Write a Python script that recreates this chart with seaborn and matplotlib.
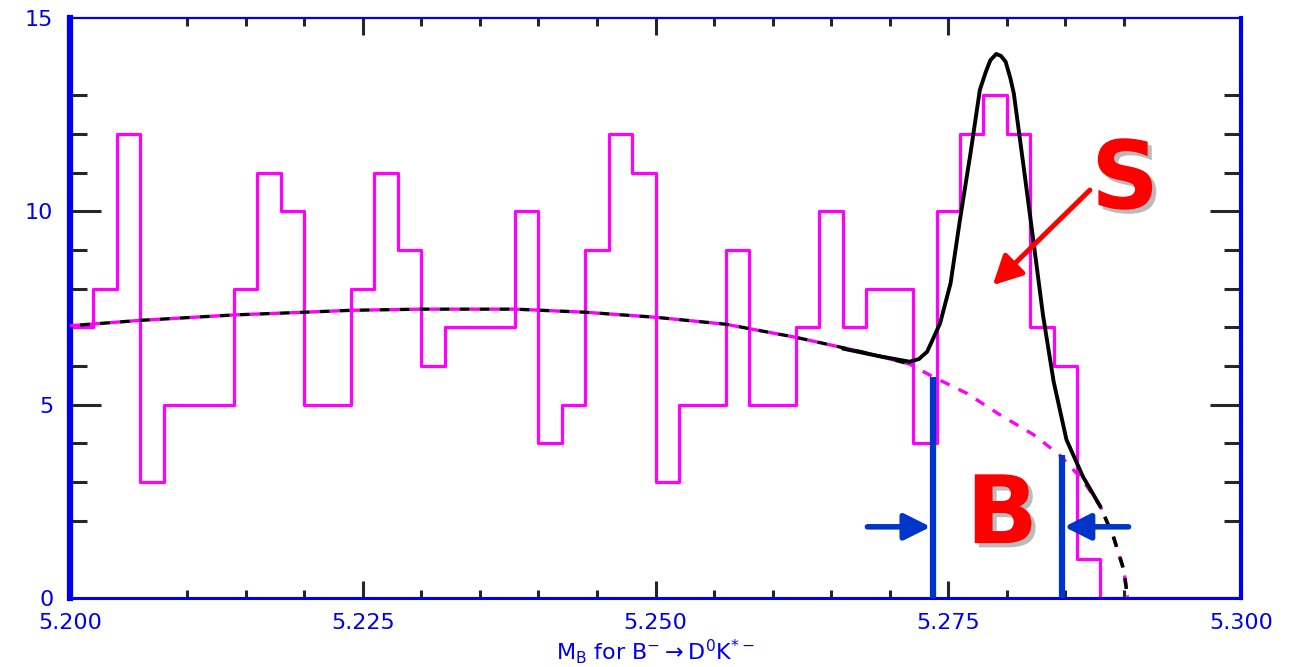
import matplotlib
matplotlib.use("Agg")
import matplotlib.pyplot as plt
import matplotlib.patheffects as pe
import numpy as np
import pandas as pd
import seaborn as sns

# histogram: 50 bins of 0.002 GeV from 5.200 to 5.300
bin_edges = [round(5.200 + 0.002 * i, 3) for i in range(51)]
counts = [7, 8, 12, 3, 5, 5, 5, 8, 11, 10,
          5, 5, 8, 11, 9, 6, 7, 7, 7, 10,
          4, 5, 9, 12, 11, 3, 5, 5, 9, 5,
          5, 7, 10, 7, 8, 8, 4, 10, 12, 13,
          12, 7, 6, 1, 0, 0, 0, 0, 0, 0]

# background (ARGUS-like) curve
bkg_x = [5.200, 5.206, 5.214, 5.220, 5.224, 5.230, 5.238, 5.244, 5.250, 5.256,
         5.262, 5.268, 5.2717, 5.2737, 5.2766, 5.2794, 5.2823, 5.2845, 5.2865,
         5.2880, 5.2891, 5.2900, 5.2903]
bkg_y = [7.04, 7.18, 7.32, 7.39, 7.44, 7.47, 7.47, 7.39, 7.26, 7.08,
         6.74, 6.34, 6.05, 5.72, 5.29, 4.74, 4.22, 3.70, 3.05,
         2.36, 1.59, 0.72, 0.03]

# total fit (signal peak + background)
tot_x = [5.2660, 5.2690, 5.2717, 5.2725, 5.2732, 5.2743, 5.2752, 5.2760, 5.2769,
         5.2777, 5.2782, 5.2786, 5.2791, 5.2795, 5.2799, 5.2803, 5.2806, 5.2814,
         5.2823, 5.2831, 5.2840, 5.2851, 5.2865, 5.2880]
tot_y = [6.45, 6.26, 6.11, 6.18, 6.37, 7.10, 8.14, 9.78, 11.50,
         13.14, 13.60, 13.91, 14.07, 14.02, 13.87, 13.45, 13.05, 11.24,
         9.17, 7.30, 5.60, 4.09, 3.14, 2.36]

# signal window cuts
cut_lo, cut_hi = 5.2737, 5.2847
cut_lo_top, cut_hi_top = 5.72, 3.70

blue = '#0000f0'
dark_blue = '#0035cc'
magenta = '#ff00ff'

sns.set_style("white")
plt.rcParams['font.family'] = ['DejaVu Sans']

fig = plt.figure(figsize=(12.97, 6.67), dpi=100)
ax = fig.add_axes([0.054, 0.1035, 0.9028, 0.8695])

hist_df = pd.DataFrame({'mass': [e + 0.001 for e in bin_edges[:-1]], 'n': counts})
sns.histplot(data=hist_df, x='mass', weights='n', bins=bin_edges, element='step',
             fill=False, color=magenta, linewidth=2.3, ax=ax)

# background: magenta dashes everywhere, black dashes where it is also the total
ax.plot(bkg_x, bkg_y, color=magenta, lw=2.4, linestyle=(0, (3, 3)), zorder=3)
left = [i for i, v in enumerate(bkg_x) if v <= 5.2717]
right = [i for i, v in enumerate(bkg_x) if v >= 5.2880]
ax.plot([bkg_x[i] for i in left], [bkg_y[i] for i in left],
        color='black', lw=2.4, linestyle=(3, (3, 3)), zorder=3)
ax.plot([bkg_x[i] for i in right], [bkg_y[i] for i in right],
        color='black', lw=2.6, linestyle=(3, (3, 3)), zorder=3)
sns.lineplot(x=tot_x, y=tot_y, color='black', lw=2.8, ax=ax, zorder=4)

# signal window lines and arrows
ax.plot([cut_lo, cut_lo], [0, cut_lo_top], color=dark_blue, lw=4.5, zorder=5,
        solid_capstyle='butt')
ax.plot([cut_hi, cut_hi], [0, cut_hi_top], color=dark_blue, lw=4.5, zorder=5,
        solid_capstyle='butt')
arr_kw = dict(arrowstyle='-|>,head_length=1.0,head_width=0.5', color=dark_blue,
              lw=4, mutation_scale=16, shrinkA=0, shrinkB=0)
ax.annotate('', xy=(cut_lo - 0.0002, 1.84), xytext=(5.2681, 1.84), arrowprops=arr_kw,
            zorder=5)
ax.annotate('', xy=(cut_hi + 0.0002, 1.84), xytext=(5.2904, 1.84), arrowprops=arr_kw,
            zorder=5)

# S / B labels
shadow = [pe.withSimplePatchShadow(offset=(3, -3), shadow_rgbFace='#bbbbbb', alpha=1)]
ax.text(5.2901, 10.75, 'S', color='#ff0000', fontsize=68, fontweight='bold',
        ha='center', va='center', path_effects=shadow, zorder=6)
ax.text(5.2796, 2.09, 'B', color='#ff0000', fontsize=68, fontweight='bold',
        ha='center', va='center', path_effects=shadow, zorder=6)
ax.annotate('', xy=(5.2788, 8.09), xytext=(5.2871, 10.55),
            arrowprops=dict(arrowstyle='-|>,head_length=0.55,head_width=0.28',
                            color='#ff0000', lw=3.6, mutation_scale=32,
                            shrinkA=0, shrinkB=0), zorder=6)

# axes
ax.set_xlim(5.200, 5.300)
ax.set_ylim(0, 15)
ax.set_xticks([5.200, 5.225, 5.250, 5.275, 5.300])
ax.set_xticklabels(['5.200', '5.225', '5.250', '5.275', '5.300'])
ax.set_xticks(np.arange(5.200, 5.3001, 0.005), minor=True)
ax.set_yticks([0, 5, 10, 15])
ax.set_yticklabels(['0', '5', '10', '15'])
ax.set_yticks(np.arange(0, 15.1, 1), minor=True)

ax.tick_params(axis='x', which='major', direction='in', length=12, width=2.2,
               top=True, bottom=True, labelsize=16, labelcolor=blue, pad=11)
ax.tick_params(axis='x', which='minor', direction='in', length=6, width=2.2,
               top=True, bottom=True)
ax.tick_params(axis='y', which='major', direction='in', length=22, width=2.2,
               left=True, right=True, labelsize=16, labelcolor=blue, pad=12)
ax.tick_params(axis='y', which='minor', direction='in', length=12, width=2.2,
               left=True, right=True)

x_major = ax.xaxis.get_major_ticks()
x_minor = ax.xaxis.get_minor_ticks()
y_major = ax.yaxis.get_major_ticks()
y_minor = ax.yaxis.get_minor_ticks()
for t in x_major + x_minor + y_major + y_minor:
    t.tick1line.set_color(blue)
    t.tick2line.set_color('black')
# ticks that would lie along the frame itself
for t in [x_major[0], x_major[-1], x_minor[0], x_minor[-1],
          y_major[0], y_major[-1], y_minor[0], y_minor[-1]]:
    t.tick1line.set_visible(False)
    t.tick2line.set_visible(False)

for side, w in [('left', 4.5), ('bottom', 2.2), ('top', 1.6), ('right', 3.0)]:
    ax.spines[side].set_visible(True)
    ax.spines[side].set_color(blue)
    ax.spines[side].set_linewidth(w)

ax.set_ylabel('')
ax.set_xlabel(r'M$_\mathrm{B}$ for B$^{-}$$\rightarrow$D$^{0}$K$^{*-}$',
              color=blue, fontsize=16, labelpad=3)

fig.savefig('out.png', dpi=100, facecolor='white')
